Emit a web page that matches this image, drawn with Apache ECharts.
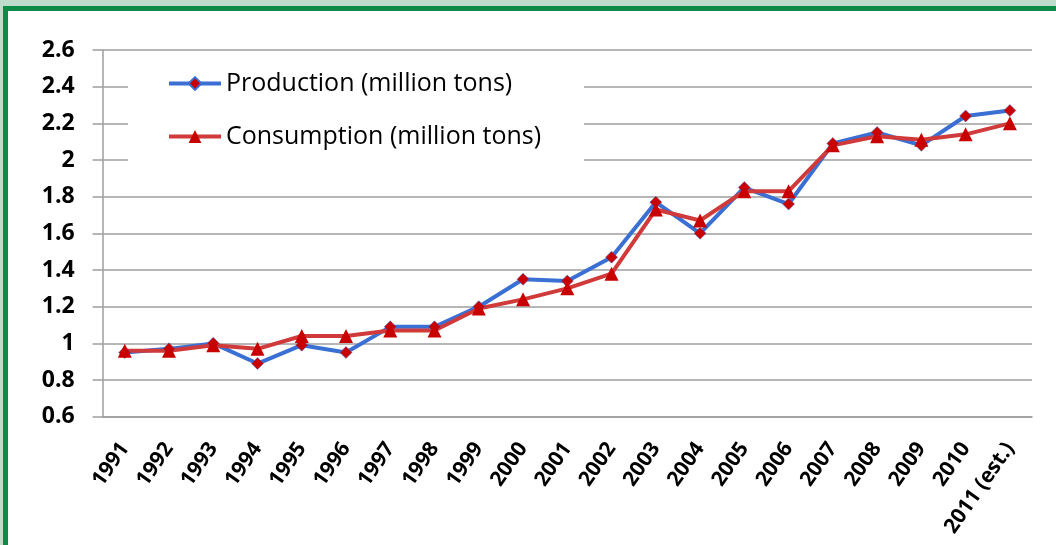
<!DOCTYPE html>
<html>
<head>
<meta charset="utf-8">
<title>Production and Consumption</title>
<script src="https://cdn.jsdelivr.net/npm/echarts@6/dist/echarts.min.js"></script>
<style>
  html, body { margin: 0; padding: 0; background: #fff; }
  #chart { width: 1056px; height: 545px; }
</style>
</head>
<body>
<div id="chart"></div>
<script>
// data
const years = ['1991', '1992', '1993', '1994', '1995', '1996', '1997', '1998', '1999', '2000',
  '2001', '2002', '2003', '2004', '2005', '2006', '2007', '2008', '2009', '2010', '2011 (est.)'];
const production = [0.95, 0.97, 1.0, 0.89, 0.99, 0.95, 1.09, 1.09, 1.2, 1.35,
  1.34, 1.47, 1.77, 1.6, 1.85, 1.76, 2.09, 2.15, 2.08, 2.24, 2.27];
const consumption = [0.96, 0.96, 0.99, 0.97, 1.04, 1.04, 1.07, 1.07, 1.19, 1.24,
  1.3, 1.38, 1.73, 1.67, 1.83, 1.83, 2.08, 2.13, 2.11, 2.14, 2.2];
const yMin = 0.6;
const yMax = 2.6;
const yStep = 0.2;

const gridColor = '#9e9e9e';
const paleGreen = '#bddcca';
const darkGreen = '#0d8a45';

const chart = echarts.init(document.getElementById('chart'));

const option = {
  backgroundColor: '#fff',
  animation: false,
  textStyle: { fontFamily: 'Open Sans' },
  graphic: [
    // frame round the picture
    { type: 'rect', z: 100, shape: { x: 0, y: 0, width: 1056, height: 6 }, style: { fill: paleGreen } },
    { type: 'rect', z: 100, shape: { x: 0, y: 0, width: 3, height: 545 }, style: { fill: paleGreen } },
    { type: 'rect', z: 100, shape: { x: 3, y: 6, width: 1053, height: 5 }, style: { fill: darkGreen } },
    { type: 'rect', z: 100, shape: { x: 3, y: 6, width: 5, height: 539 }, style: { fill: darkGreen } },
    // white box behind the legend
    { type: 'rect', z: 1, shape: { x: 128, y: 60, width: 456, height: 126 }, style: { fill: '#fff' } }
  ],
  legend: {
    orient: 'vertical',
    left: 162,
    top: 66,
    itemWidth: 52,
    itemHeight: 16,
    itemGap: 28,
    lineStyle: { width: 4 },
    textStyle: { fontFamily: 'Open Sans', fontSize: 25, color: '#000' },
    data: ['Production (million tons)', 'Consumption (million tons)']
  },
  grid: {
    left: 102.6,
    right: 24,
    top: 50,
    bottom: 128.3
  },
  xAxis: {
    type: 'category',
    data: years,
    axisLine: { lineStyle: { color: gridColor, width: 1.5 } },
    axisTick: { length: 8, lineStyle: { color: gridColor, width: 1.5 } },
    axisLabel: {
      interval: 0,
      rotate: 55,
      margin: 28,
      fontFamily: 'Open Sans',
      fontWeight: 'bold',
      fontSize: 21,
      color: '#000'
    }
  },
  yAxis: {
    type: 'value',
    min: yMin,
    max: yMax,
    interval: yStep,
    axisLine: { show: true, lineStyle: { color: gridColor, width: 1.5 } },
    axisTick: { show: true, length: 10, lineStyle: { color: gridColor, width: 1.5 } },
    splitLine: { lineStyle: { color: gridColor, width: 1.5 } },
    axisLabel: {
      margin: 28,
      fontFamily: 'Open Sans',
      fontWeight: 'bold',
      fontSize: 23,
      color: '#000'
    }
  },
  series: [
    {
      name: 'Production (million tons)',
      type: 'line',
      data: production,
      symbol: 'diamond',
      symbolSize: 12,
      lineStyle: { color: '#3a6fd4', width: 4 },
      itemStyle: { color: '#c80000', borderColor: '#3a6fd4', borderWidth: 0.5 }
    },
    {
      name: 'Consumption (million tons)',
      type: 'line',
      data: consumption,
      symbol: 'triangle',
      symbolSize: 14,
      lineStyle: { color: '#d03a3a', width: 4 },
      itemStyle: { color: '#c80000' }
    }
  ]
};

chart.setOption(option);
</script>
</body>
</html>
